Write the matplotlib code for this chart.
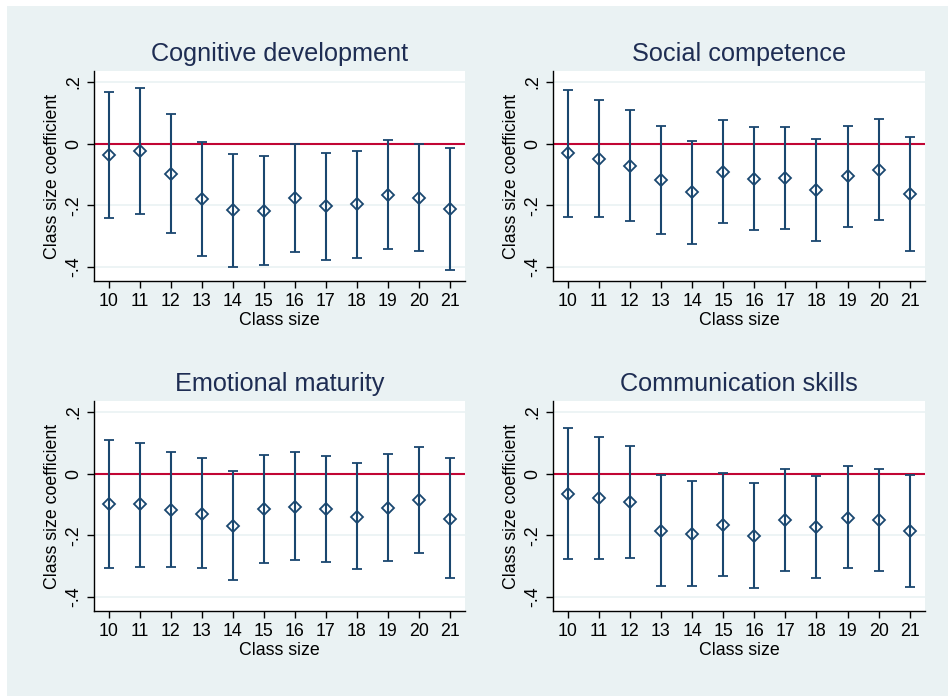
import numpy as np
import matplotlib.pyplot as plt
from matplotlib.patches import Rectangle

plt.rcParams['font.family'] = ['Liberation Sans', 'DejaVu Sans']

class_size = [10, 11, 12, 13, 14, 15, 16, 17, 18, 19, 20, 21]
titles = ["Cognitive development", "Social competence",
          "Emotional maturity", "Communication skills"]

# coefficient, upper and lower bound per panel
cog_coef = [-0.037, -0.023, -0.097, -0.179, -0.216, -0.217, -0.176, -0.203, -0.196, -0.165, -0.175, -0.212]
cog_hi = [0.169, 0.182, 0.095, 0.0065, -0.034, -0.040, 0.0, -0.029, -0.022, 0.011, 0.0, -0.015]
cog_lo = [-0.242, -0.227, -0.289, -0.364, -0.398, -0.394, -0.350, -0.376, -0.370, -0.341, -0.348, -0.409]

soc_coef = [-0.031, -0.048, -0.071, -0.118, -0.158, -0.092, -0.114, -0.110, -0.150, -0.106, -0.085, -0.164]
soc_hi = [0.175, 0.143, 0.108, 0.057, 0.010, 0.077, 0.055, 0.055, 0.015, 0.058, 0.081, 0.021]
soc_lo = [-0.237, -0.236, -0.250, -0.292, -0.324, -0.257, -0.280, -0.275, -0.315, -0.270, -0.248, -0.347]

emo_coef = [-0.098, -0.099, -0.116, -0.129, -0.169, -0.115, -0.107, -0.115, -0.139, -0.110, -0.085, -0.146]
emo_hi = [0.111, 0.099, 0.072, 0.051, 0.008, 0.062, 0.069, 0.059, 0.034, 0.065, 0.088, 0.050]
emo_lo = [-0.306, -0.301, -0.303, -0.306, -0.343, -0.289, -0.281, -0.285, -0.310, -0.282, -0.256, -0.339]

com_coef = [-0.064, -0.079, -0.092, -0.185, -0.196, -0.165, -0.201, -0.149, -0.174, -0.142, -0.149, -0.185]
com_hi = [0.150, 0.119, 0.091, -0.003, -0.025, 0.001, -0.031, 0.016, -0.008, 0.025, 0.017, -0.003]
com_lo = [-0.277, -0.275, -0.274, -0.365, -0.365, -0.332, -0.370, -0.314, -0.338, -0.306, -0.315, -0.366]

panels = [(cog_coef, cog_hi, cog_lo), (soc_coef, soc_hi, soc_lo),
          (emo_coef, emo_hi, emo_lo), (com_coef, com_hi, com_lo)]

navy = '#1A476F'
W, H = 948, 696
fig = plt.figure(figsize=(W / 100, H / 100), dpi=100, facecolor='white')
fig.patches.append(Rectangle((7 / W, 0), 1, 690 / H, transform=fig.transFigure,
                             facecolor='#EAF2F3', edgecolor='none', zorder=-10))

# plot-area boxes in pixels: left, top, right, bottom
boxes = [(94, 71, 465, 281), (553, 71, 925, 281),
         (94, 401, 465, 611), (553, 401, 925, 611)]

for i, (coef, hi, lo) in enumerate(panels):
    l, t, r, b = boxes[i]
    ax = fig.add_axes([l / W, 1 - b / H, (r - l) / W, (b - t) / H])
    ax.set_facecolor('white')
    x = np.array(class_size)
    coef = np.array(coef)
    ax.errorbar(x, coef, yerr=[coef - np.array(lo), np.array(hi) - coef],
                fmt='D', mfc='none', mec=navy, ms=6.5, mew=1.3,
                ecolor=navy, elinewidth=1.5, capsize=3.3, capthick=1.5, zorder=3)
    ax.axhline(0, color='#C10534', lw=1.5, zorder=2)
    ax.set_xlim(9.53, 21.49)
    ax.set_ylim(-0.445, 0.236)
    ax.set_yticks([0.2, 0, -0.2, -0.4])
    ax.set_yticklabels(['.2', '0', '-.2', '-.4'], rotation=90, va='center')
    ax.set_xticks(class_size)
    ax.yaxis.grid(True, color='#EAF2F3', lw=1.2)
    ax.set_axisbelow(True)
    for s in ['top', 'right']:
        ax.spines[s].set_visible(False)
    for s in ['left', 'bottom']:
        ax.spines[s].set_linewidth(1.0)
    ax.tick_params(labelsize=12.8, length=5, width=1.0, colors='black')
    ax.tick_params(axis='x', pad=4)
    ax.set_xlabel('Class size', fontsize=12.8, labelpad=1)
    ax.set_ylabel('Class size coefficient', fontsize=12.8, labelpad=3)
    ax.set_title(titles[i], fontsize=18.2, color='#1E2D53', pad=7)

fig.savefig('out.png', dpi=100, facecolor='white')
